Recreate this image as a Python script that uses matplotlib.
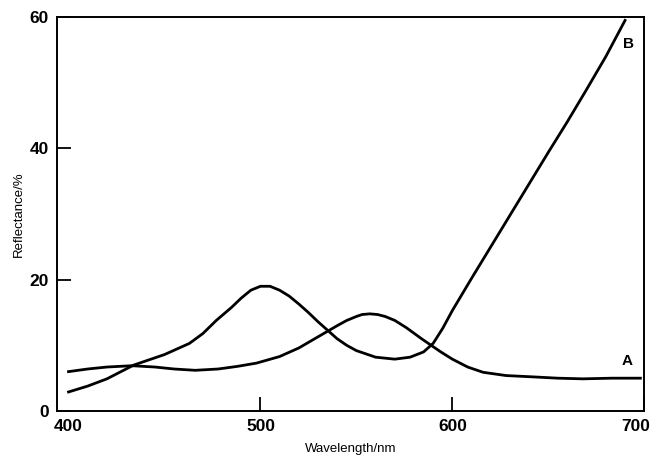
import matplotlib.pyplot as plt
from matplotlib.transforms import ScaledTranslation

# curve A (peak near 557 nm, flat tail)
wl_a = [400, 410, 420, 433, 445, 455, 466, 478, 488, 498, 510, 520, 530, 540, 545,
        550, 553, 557, 561, 565, 570, 576, 584, 589, 594, 600, 608, 616, 628, 642, 655, 668, 683, 698]
refl_a = [6.0, 6.4, 6.7, 6.9, 6.7, 6.4, 6.2, 6.4, 6.8, 7.3, 8.3, 9.6, 11.3, 13.0, 13.8,
          14.4, 14.7, 14.8, 14.7, 14.4, 13.8, 12.7, 11.0, 10.0, 9.0, 7.9, 6.7, 5.9, 5.4, 5.2, 5.0, 4.9, 5.0, 5.0]

# curve B (peak near 502 nm, steep rise after 580 nm)
wl_b = [400, 410, 420, 434, 450, 463, 470, 477, 485, 490, 495, 500, 505, 510, 515, 520, 525, 530, 535, 540,
        545, 550, 560, 570, 578, 585, 590, 595, 600, 610, 620, 630, 640, 650, 660, 670, 680, 690]
refl_b = [2.9, 3.8, 4.9, 7.0, 8.6, 10.3, 11.8, 13.8, 15.8, 17.2, 18.4, 19.0, 19.0, 18.4, 17.5, 16.3, 15.0, 13.6, 12.3, 11.0,
          10.0, 9.2, 8.2, 7.9, 8.2, 9.0, 10.3, 12.6, 15.3, 20.2, 25.0, 29.8, 34.6, 39.4, 44.1, 49.0, 54.0, 59.5]

x_ticks = [400, 500, 600, 700]
y_ticks = [0, 20, 40, 60]

plt.rcParams['font.family'] = ['Liberation Sans', 'DejaVu Sans']

fig = plt.figure(figsize=(6.51, 4.58), dpi=100)
ax = fig.add_axes([0.0876, 0.1026, 0.902, 0.860])

ax.plot(wl_a, refl_a, color='black', linewidth=2.0)
ax.plot(wl_b, refl_b, color='black', linewidth=2.0)

ax.text(691, 7.6, 'A', fontsize=11, fontweight='bold', ha='center', va='center')
ax.text(692, 55.9, 'B', fontsize=11, fontweight='bold', ha='center', va='center')

ax.set_xlim(394, 700)
ax.set_ylim(0, 60)
ax.set_xticks(x_ticks)
ax.set_yticks(y_ticks)
ax.tick_params(direction='in', length=10, width=1.3, labelsize=12.5, pad=6)
for lab in ax.get_xticklabels() + ax.get_yticklabels():
    lab.set_fontweight('bold')
# no tick mark at 400 in the scan
ax.xaxis.get_major_ticks()[0].tick1line.set_visible(False)
# last x label sits a bit left of the spine, as in the scan
last = ax.get_xticklabels()[-1]
last.set_transform(last.get_transform() + ScaledTranslation(-0.09, 0, fig.dpi_scale_trans))
for s in ax.spines.values():
    s.set_linewidth(1.4)

ax.set_xlabel('Wavelength/nm', fontsize=9.5, labelpad=6)
ax.set_ylabel('Reflectance/%', fontsize=9.5, labelpad=3)

fig.savefig('out.png', dpi=100)
